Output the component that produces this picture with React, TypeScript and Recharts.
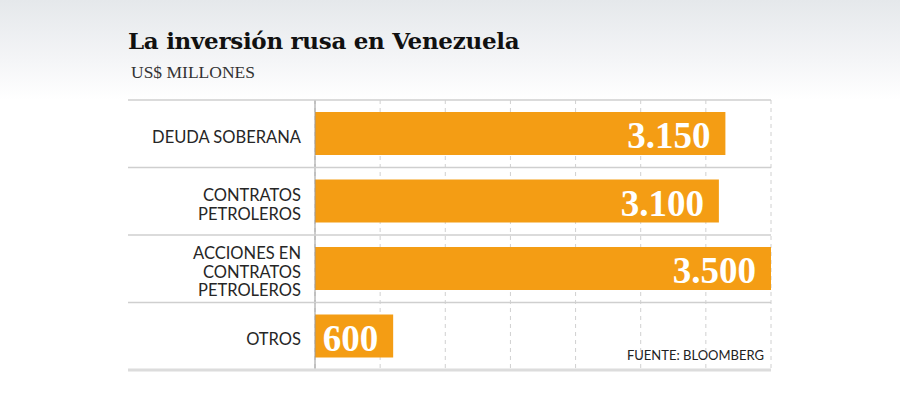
import { BarChart, Bar, XAxis, YAxis, CartesianGrid, LabelList } from 'recharts';

const categories = ['DEUDA SOBERANA', 'CONTRATOS\nPETROLEROS', 'ACCIONES EN\nCONTRATOS\nPETROLEROS', 'OTROS'];
const values = [3150, 3100, 3500, 600];
const xTicks = [0, 500, 1000, 1500, 2000, 2500, 3000, 3500];

const data = categories.map((name, i) => ({ name, value: values[i] }));

const CHART_W = 900;
const CHART_H = 398;
const MARGIN = { top: 100, right: 129, bottom: 28, left: 128 };
const AXIS_W = 187;
const ORANGE = '#f49d14';
const sans = 'Lato, "Open Sans", sans-serif';
const serif = '"Liberation Serif", "DejaVu Serif", serif';

// dots as thousand separator, 3150 -> "3.150"
const fmt = (v: number) => String(v).replace(/\B(?=(\d{3})+(?!\d))/g, '.');

function CategoryTick({ x, y, payload, index, height }: any) {
  const lines = String(payload.value).split('\n');
  const lh = 18.5;
  const start = y + 3 - ((lines.length - 1) * lh) / 2;
  const half = payload.offset || (height || CHART_H - MARGIN.top - MARGIN.bottom) / categories.length / 2;
  const x1 = MARGIN.left;
  const x2 = CHART_W - MARGIN.right;
  const last = index === categories.length - 1;
  return (
    <g>
      <line x1={x1} x2={x2} y1={y - half} y2={y - half} stroke="#cfcfcf" strokeWidth={1.5} />
      {last && <line x1={x1} x2={x2} y1={y + half} y2={y + half} stroke="#dcdcdc" strokeWidth={3} />}
      <text x={x - 6} y={start} textAnchor="end" fontFamily={sans} fontSize={16.5} fill="#262626">
        {lines.map((l, i) => (
          <tspan key={i} x={x - 6} y={start + i * lh} dominantBaseline="central">
            {l}
          </tspan>
        ))}
      </text>
    </g>
  );
}

function ValueLabel({ x, y, width, height, value }: any) {
  return (
    <text
      x={x + width - 15}
      y={y + height / 2 + 2}
      textAnchor="end"
      dominantBaseline="central"
      fontFamily={serif}
      fontWeight="bold"
      fontSize={37}
      fill="#fff"
    >
      {fmt(value)}
    </text>
  );
}

export default function App() {
  return (
    <div
      style={{
        position: 'absolute',
        left: 0,
        top: 0,
        width: CHART_W,
        height: CHART_H,
        background: 'linear-gradient(to bottom, #e5e8eb 0px, #f4f5f7 60px, #ffffff 100px)',
      }}
    >
      <div
        style={{
          position: 'absolute',
          left: 128,
          top: 27,
          fontFamily: '"DejaVu Serif", serif',
          fontWeight: 'bold',
          fontSize: 23,
          letterSpacing: -0.3,
          color: '#111',
        }}
      >
        La inversión rusa en Venezuela
      </div>
      <div style={{ position: 'absolute', left: 131, top: 62, fontFamily: serif, fontSize: 17.5, color: '#333' }}>
        US$ MILLONES
      </div>
      <BarChart
        layout="vertical"
        width={CHART_W}
        height={CHART_H}
        data={data}
        margin={MARGIN}
      >
        <CartesianGrid horizontal={false} stroke="#d0d0d0" strokeDasharray="4 4" />
        <XAxis type="number" domain={[0, 3500]} ticks={xTicks} hide />
        <YAxis
          type="category"
          dataKey="name"
          width={AXIS_W}
          axisLine={{ stroke: '#999', strokeWidth: 1 }}
          tickLine={false}
          tick={<CategoryTick />}
        />
        <Bar dataKey="value" fill={ORANGE} barSize={43} isAnimationActive={false}>
          <LabelList dataKey="value" content={<ValueLabel />} />
        </Bar>
      </BarChart>
      <div
        style={{
          position: 'absolute',
          right: 136,
          top: 347,
          fontFamily: sans,
          fontSize: 13,
          color: '#222',
        }}
      >
        FUENTE: BLOOMBERG
      </div>
    </div>
  );
}
